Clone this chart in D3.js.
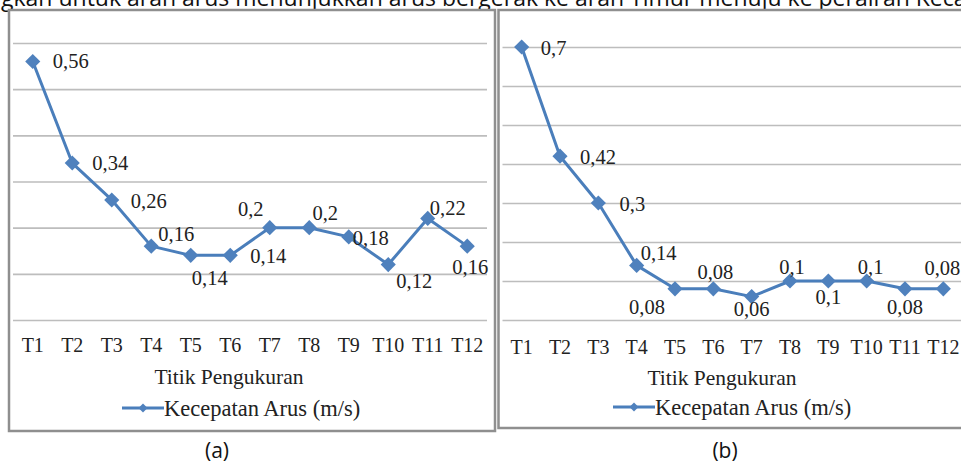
<!DOCTYPE html>
<html>
<head>
<meta charset="utf-8">
<script src="https://cdn.jsdelivr.net/npm/d3@7"></script>
<style>
  html, body { margin: 0; padding: 0; background: #fff; }
  svg { display: block; }
</style>
</head>
<body>
<svg id="fig" width="961" height="469"></svg>
<script>
// Measurement points along the transect
const categories = ["T1", "T2", "T3", "T4", "T5", "T6", "T7", "T8", "T9", "T10", "T11", "T12"];

// Current speed (m/s), survey (a) and survey (b)
const speedA = [0.56, 0.34, 0.26, 0.16, 0.14, 0.14, 0.2, 0.2, 0.18, 0.12, 0.22, 0.16];
const speedB = [0.7, 0.42, 0.3, 0.14, 0.08, 0.08, 0.06, 0.1, 0.1, 0.1, 0.08, 0.08];

// Horizontal gridline values
const gridA = [0, 0.1, 0.2, 0.3, 0.4, 0.5, 0.6];
const gridB = [0, 0.1, 0.2, 0.3, 0.4, 0.5, 0.6, 0.7];

const seriesName = "Kecepatan Arus (m/s)";
const axisTitle = "Titik Pengukuran";
const captionText = "Sedangkan untuk arah arus menunjukkan arus bergerak ke arah Timur menuju ke perairan Kecamatan";

// Data-label nudges (label centre relative to its marker), as placed in the figure
const labelNudgeA = [[38, 0], [38, 0], [37, 1], [25, -12], [19, 23], [38, 1], [-19, -19], [16, -15], [22, 1], [26, 16], [20, -10], [3, 21]];
const labelNudgeB = [[32, 1], [38, 1], [34, 1], [22, -12], [-28, 18], [2, -17], [0, 12], [2, -14], [0, 16], [4, -14], [0, 18], [-1, -21]];

const fmt = d3.formatLocale({ decimal: ",", thousands: ".", grouping: [3], currency: ["", ""] }).format("~g");

const LINE = "#4a7ebb";
const MARK = "#4f81bd";
const GRID = "#bdbdbd";
const TXT = "#222";
const SERIF = "'Liberation Serif', 'Times New Roman', serif";

const svg = d3.select("#fig");

// Caption line running off the top of the figure
const CAP_SIZE = 23;
const cap = svg.append("text")
  .attr("font-family", "'Open Sans', sans-serif")
  .attr("font-size", CAP_SIZE)
  .attr("fill", "#111")
  .attr("y", 6);
const probe = svg.append("text").attr("font-family", "'Open Sans', sans-serif").attr("font-size", CAP_SIZE).text("Sedan");
const lead = probe.node().getComputedTextLength();
probe.remove();
cap.attr("x", -lead + 1).text(captionText);

function drawPanel(cfg) {
  const g = svg.append("g");

  // frame
  g.append("rect")
    .attr("x", cfg.frame[0]).attr("y", cfg.frame[1])
    .attr("width", cfg.frame[2] - cfg.frame[0]).attr("height", cfg.frame[3] - cfg.frame[1])
    .attr("fill", "#fff").attr("stroke", "#8f8f8f").attr("stroke-width", 2.5);

  const x = d3.scaleBand().domain(categories).range([cfg.x0, cfg.x1]);
  const y = d3.scaleLinear().domain([0, d3.max(cfg.grid)]).range([cfg.yBottom, cfg.yTop]);

  // gridlines
  const grid = g.append("g").attr("transform", `translate(${cfg.x0},0)`)
    .call(d3.axisLeft(y).tickValues(cfg.grid).tickSize(-(cfg.x1 - cfg.x0)).tickFormat(""));
  grid.select(".domain").remove();
  grid.selectAll(".tick line").attr("stroke", GRID).attr("stroke-width", 1.6);

  // category axis
  const xa = g.append("g").attr("transform", `translate(0,${cfg.yBottom})`)
    .call(d3.axisBottom(x).tickSize(0));
  xa.select(".domain").remove();
  xa.selectAll(".tick text")
    .attr("y", cfg.tickOffset).attr("dy", "0.35em")
    .attr("font-family", SERIF).attr("font-size", 20).attr("fill", TXT);

  const cx = (d, i) => x(categories[i]) + x.bandwidth() / 2;

  // series line
  g.append("path")
    .datum(cfg.values)
    .attr("fill", "none").attr("stroke", LINE).attr("stroke-width", 3)
    .attr("stroke-linejoin", "round")
    .attr("d", d3.line().x(cx).y(d => y(d)));

  // diamond markers
  const diamond = d3.symbol().type(d3.symbolSquare).size(115);
  g.selectAll(".mk").data(cfg.values).join("path")
    .attr("d", diamond)
    .attr("fill", MARK)
    .attr("transform", (d, i) => `translate(${cx(d, i)},${y(d)}) rotate(45)`);

  // data labels
  g.selectAll(".lbl").data(cfg.values).join("text")
    .attr("x", (d, i) => cx(d, i) + cfg.nudge[i][0])
    .attr("y", (d, i) => y(d) + cfg.nudge[i][1])
    .attr("text-anchor", "middle").attr("dominant-baseline", "central")
    .attr("font-family", SERIF).attr("font-size", 20.5).attr("fill", TXT)
    .text(d => fmt(d));

  // axis title
  g.append("text")
    .attr("x", cfg.titleX).attr("y", cfg.titleY)
    .attr("text-anchor", "middle").attr("dominant-baseline", "central")
    .attr("font-family", SERIF).attr("font-size", 21.5).attr("fill", TXT)
    .text(axisTitle);

  // legend
  const lg = g.append("g").attr("transform", `translate(${cfg.legendX},${cfg.legendY})`);
  lg.append("line").attr("x1", 0).attr("x2", 42).attr("stroke", LINE).attr("stroke-width", 3);
  lg.append("path").attr("d", d3.symbol().type(d3.symbolSquare).size(40)())
    .attr("fill", MARK).attr("transform", "translate(21,0) rotate(45)");
  lg.append("text").attr("x", 42).attr("dominant-baseline", "central")
    .attr("font-family", SERIF).attr("font-size", 22.5).attr("fill", TXT)
    .text(seriesName);

  // panel tag
  svg.append("text")
    .attr("x", cfg.tagX).attr("y", 458)
    .attr("text-anchor", "middle")
    .attr("font-family", "'Open Sans', sans-serif").attr("font-size", 21).attr("fill", "#111")
    .text(cfg.tag);
}

drawPanel({
  values: speedA, grid: gridA, nudge: labelNudgeA,
  frame: [9, 10, 495, 431],
  x0: 13, x1: 487, yTop: 43, yBottom: 320,
  tickOffset: 25, titleX: 229, titleY: 377,
  legendX: 122, legendY: 408, tag: "(a)", tagX: 217
});

drawPanel({
  values: speedB, grid: gridB, nudge: labelNudgeB,
  frame: [498.5, 10, 975, 428],
  x0: 502.5, x1: 962.5, yTop: 47, yBottom: 320,
  tickOffset: 27, titleX: 722, titleY: 378,
  legendX: 613, legendY: 407, tag: "(b)", tagX: 725
});
</script>
</body>
</html>
